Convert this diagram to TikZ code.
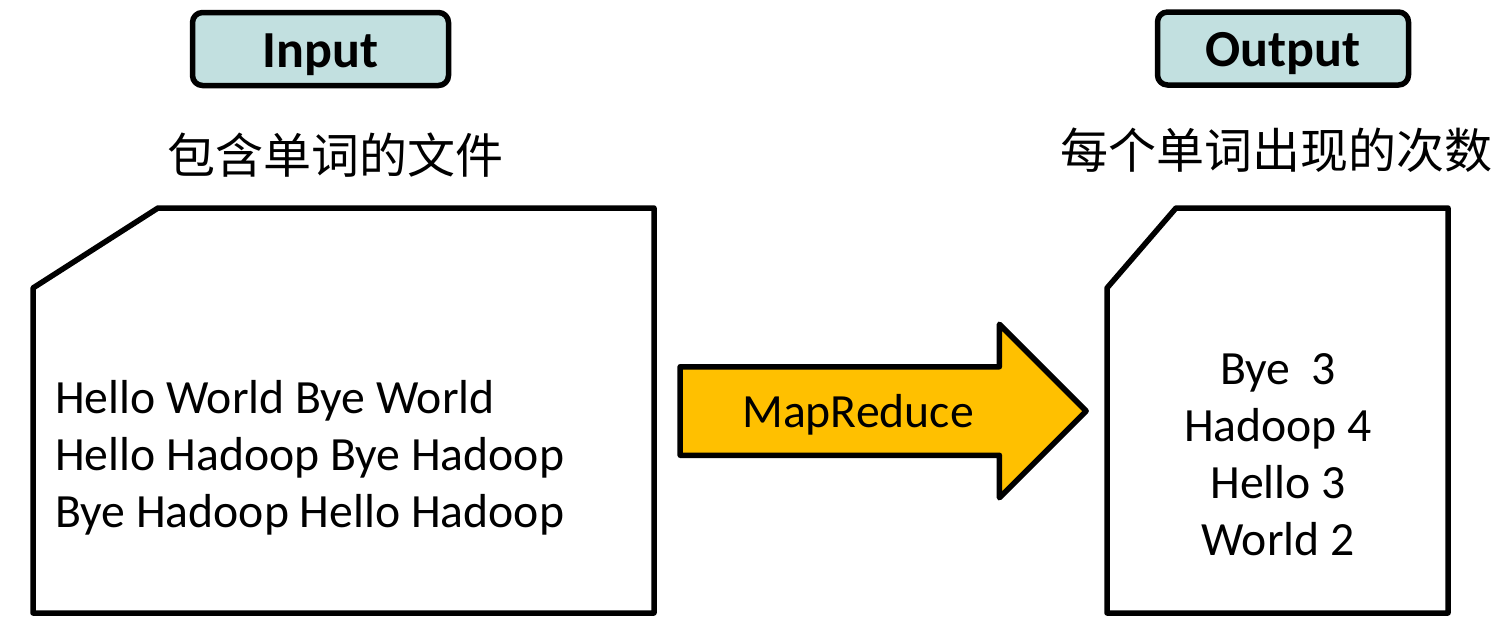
\documentclass[tikz,border=0pt]{standalone}
\usepackage{fontspec}
\setmainfont{Carlito}
\newfontfamily\cjk{Noto Sans CJK SC}
\usetikzlibrary{shapes.arrows,positioning}
\definecolor{tagfill}{RGB}{194,224,224}
\definecolor{mrgold}{RGB}{255,192,0}

\begin{document}
\begin{tikzpicture}[x=1pt,y=-1pt,line join=round,
    tag/.style={draw,line width=5.5pt,rounded corners=10pt,fill=tagfill,inner sep=0pt,
                text height=38pt,text depth=2pt,
                minimum height=73pt,font=\fontsize{52}{60}\selectfont\bfseries},
    doc/.style={draw,line width=5.5pt,fill=white},
    words/.style={inner sep=0pt,font=\fontsize{47.7}{57}\selectfont},
    caption/.style={inner sep=0pt,font=\fontsize{48}{57}\selectfont\cjk}]
    \useasboundingbox (0,0) rectangle (1496,616);

    % labels on top
    \node[tag,minimum width=256pt] (in)  at (320.5,49)  {Input};
    \node[tag,minimum width=251pt] (out) at (1283,48.5) {Output};
    \node[caption] (incap)  at (335,155)  {包含单词的文件};
    \node[caption] (outcap) at (1276,150) {每个单词出现的次数};

    % the two files (base anchor sits on the last line)
    \draw[doc] (33,288) -- (158,208) -- (654,208) -- (654,613) -- (33,613) -- cycle;
    \draw[doc] (1107,288) -- (1176,208) -- (1448,208) -- (1448,613) -- (1107,613) -- cycle;
    \node[words,align=left,anchor=base west] (infile) at (55,527)
        {Hello World Bye World\\Hello Hadoop Bye Hadoop\\Bye Hadoop Hello Hadoop};
    \node[words,align=center,anchor=base] (outfile) at (1278,555)
        {Bye~~3\\Hadoop 4\\Hello 3\\World 2};

    % the job in between
    \node[single arrow,draw,line width=5.5pt,fill=mrgold,inner sep=0pt,
          text height=41.5pt,text depth=41.5pt,
          minimum height=406pt,minimum width=168pt,single arrow head extend=42.5pt,
          single arrow head indent=0pt] (mr) at (861,411) {};
    \node[words] (mrtext) at (858,415) {MapReduce};
\end{tikzpicture}
\end{document}
